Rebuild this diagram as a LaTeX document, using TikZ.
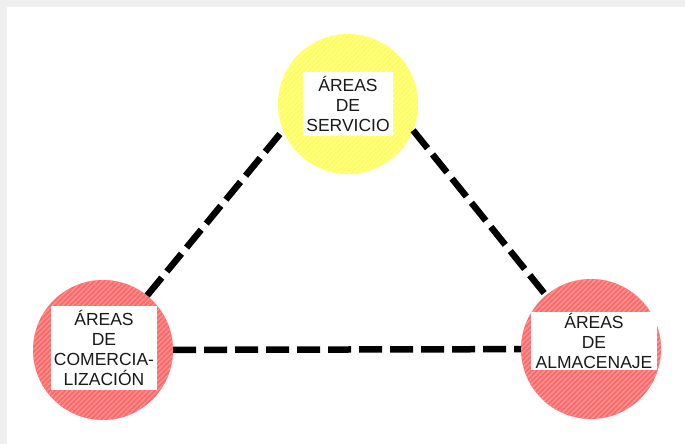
\documentclass[tikz,border=0pt]{standalone}
\usepackage{fontspec}
\setmainfont{Liberation Sans}
\usetikzlibrary{positioning}
\definecolor{zoneyellow}{HTML}{FFFF55}
\definecolor{stripeyellow}{HTML}{FFFF9A}
\definecolor{zonered}{HTML}{FF6868}
\definecolor{stripered}{HTML}{FF9494}
\definecolor{framegray}{HTML}{EFEFEF}
\tikzset{
  zone/.style 2 args={circle, minimum size=140pt, inner sep=0pt, fill=#1,
    path picture={
      \foreach \k in {-32,...,32}
        \draw[#2, line width=1.4pt] ([xshift=\k*5pt]path picture bounding box.south west) -- ++(160pt,160pt);
    }},
  tag/.style={fill=white, align=center, inner xsep=3pt, inner ysep=4pt,
    font=\fontsize{17.5}{20}\selectfont, text=black!90},
  link/.style={line width=6.5pt, dash pattern=on 23pt off 8pt, black},
}
\begin{document}
\begin{tikzpicture}[x=1pt, y=-1pt]
  \fill[framegray] (0,0) rectangle (685,444);
  \fill[white] (7,7) rectangle (685,444);
  \useasboundingbox (0,0) rectangle (685,444);

  % zonas
  \node[zone={zoneyellow}{stripeyellow}] (serv) at (348,104) {};
  \node[zone={zonered}{stripered}] (comer) at (103,350) {};
  \node[zone={zonered}{stripered}] (alma) at (591,349) {};

  % relaciones
  \draw[link] (comer.51) -- (serv.202);
  \draw[link] (serv.338) -- (alma.130);
  \draw[link] (comer) -- (alma);

  % rotulos
  \node[tag] (servtxt) at (348,104) {ÁREAS\\DE\\SERVICIO};
  \node[tag] (comertxt) at (104,348) {ÁREAS\\DE\\COMERCIA-\\LIZACIÓN};
  \node[tag, inner xsep=5pt, inner ysep=1pt] (almatxt) at (594,341) {ÁREAS\\DE\\ALMACENAJE};
\end{tikzpicture}
\end{document}
